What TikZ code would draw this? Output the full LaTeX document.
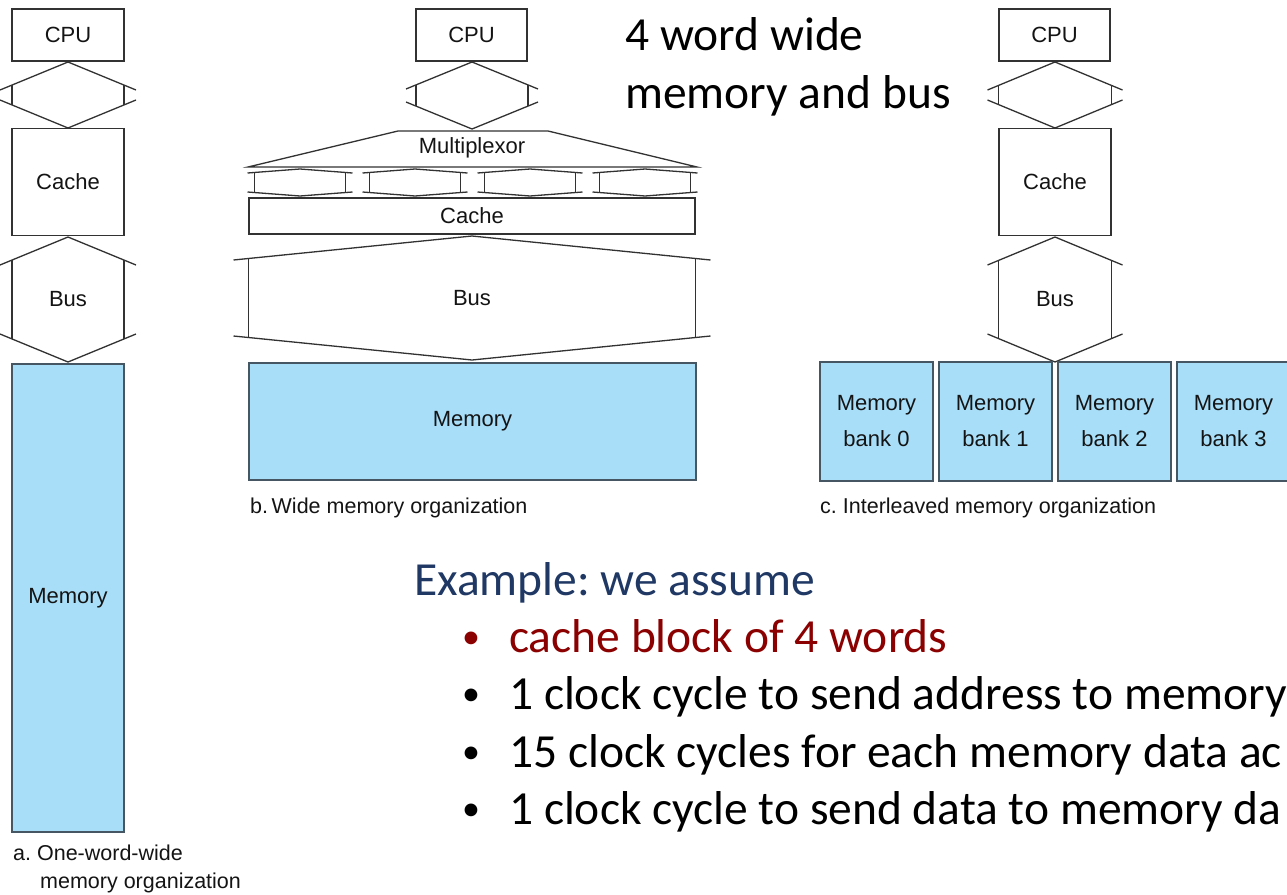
\documentclass[tikz,border=0pt]{standalone}
\usepackage{fontspec}
\setmainfont{Carlito}
\newfontfamily\helv{Liberation Sans}
\frenchspacing
\definecolor{memfill}{RGB}{168,222,248}
\definecolor{memline}{RGB}{70,86,98}
\definecolor{linegray}{RGB}{50,50,50}
\definecolor{figtext}{RGB}{20,20,20}
\definecolor{exblue}{RGB}{31,56,100}
\definecolor{exred}{RGB}{139,0,0}
\tikzset{
  conn/.style={draw=linegray, line width=1.3pt},
  plainbox/.style={draw=linegray, line width=1.3pt, fill=white, inner sep=0pt, text=figtext, font=\helv\fontsize{22}{26}\selectfont},
  membox/.style={draw=memline, line width=1.3pt, fill=memfill, inner sep=0pt, text=figtext, font=\helv\fontsize{22}{36}\selectfont, align=center},
  figlabel/.style={inner sep=0pt, text=figtext, font=\helv\fontsize{22}{26}\selectfont},
  caption/.style={inner sep=0pt, anchor=base west, text=figtext, font=\helv\fontsize{21.5}{28}\selectfont},
  bigtext/.style={inner sep=0pt, anchor=base west, font=\fontsize{47.5}{57}\selectfont},
  bulletmark/.style={inner sep=0pt, anchor=base, font=\fontsize{36}{40}\selectfont}
}
% #1 cx, #2 ytop, #3 ybot, #4 half width, #5 overhang, #6 drop
\newcommand{\busshape}[6]{%
  \pgfmathsetmacro{\bxl}{#1-#4}\pgfmathsetmacro{\bxr}{#1+#4}%
  \pgfmathsetmacro{\bol}{#1-#4-#5}\pgfmathsetmacro{\bor}{#1+#4+#5}%
  \pgfmathsetmacro{\byu}{#2+#6}\pgfmathsetmacro{\byd}{#3-#6}%
  \pgfmathsetmacro{\bvu}{#2+#6*#4/(#4+#5)}\pgfmathsetmacro{\bvd}{#3-#6*#4/(#4+#5)}%
  \draw[conn] (\bol,\byu) -- (#1,#2) -- (\bor,\byu);
  \draw[conn] (\bol,\byd) -- (#1,#3) -- (\bor,\byd);
  \draw[conn] (\bxl,\bvu) -- (\bxl,\bvd) (\bxr,\bvu) -- (\bxr,\bvd);
}
\begin{document}
\begin{tikzpicture}[x=1pt,y=-1pt]
\useasboundingbox (0,0) rectangle (1287,894);
\fill[white] (0,0) rectangle (1287,894);
\clip (0,0) rectangle (1287,894);

% ---------- a. one-word-wide ----------
\node[plainbox, minimum width=112pt, minimum height=52pt] (cpuA) at (68,35) {CPU};
\busshape{68}{62}{128}{56}{12}{28}
\node[plainbox, minimum width=112pt, minimum height=107pt] (cacheA) at (68,182) {Cache};
\busshape{68}{237}{362}{56}{12}{28}
\node[figlabel] (busA) at (68,299) {Bus};
\node[membox, minimum width=112pt, minimum height=468pt] (memA) at (68,598) {Memory};
\node[caption] (capA1) at (13,860) {a. One-word-wide};
\node[caption] (capA2) at (40,888) {memory organization};

% ---------- b. wide ----------
\node[plainbox, minimum width=111pt, minimum height=52pt] (cpuB) at (471.5,35) {CPU};
\busshape{472}{62}{129}{56}{10}{27}
\draw[conn] (398,131) -- (548,131) -- (697,167) -- (248,167) -- cycle;
\node[figlabel] (muxB) at (472,148) {Multiplexor};
\foreach \cx in {300,415,530,645}{\busshape{\cx}{169}{196}{45.5}{7}{4}}
\node[plainbox, minimum width=446pt, minimum height=36pt] (cacheB) at (472,216) {Cache};
\busshape{472}{236}{360}{223.5}{15}{24}
\node[figlabel] (busB) at (472,298) {Bus};
\node[membox, minimum width=447pt, minimum height=117pt] (memB) at (472.5,421.5) {Memory};
\node[caption] (capB) at (250,513) {b.\,Wide memory organization};

% ---------- c. interleaved ----------
\node[plainbox, minimum width=111pt, minimum height=52pt] (cpuC) at (1054.5,35) {CPU};
\busshape{1055}{62}{128}{56.5}{11}{28}
\node[plainbox, minimum width=112pt, minimum height=107pt] (cacheC) at (1055,182) {Cache};
\busshape{1055}{237}{362}{56.5}{11}{28}
\node[figlabel] (busC) at (1055,299) {Bus};
\foreach \i in {0,1,2,3}{
  \node[membox, minimum width=113pt, minimum height=119pt] (bank\i) at (876.5+119*\i,421.5) {Memory\\bank \i};
}
\node[caption] (capC) at (820,513) {c. Interleaved memory organization};

% ---------- text ----------
\node[bigtext] (t1) at (625,50) {4 word wide};
\node[bigtext] (t2) at (625,108) {memory and bus};
\node[bigtext, text=exblue] (ex) at (414,595) {Example: we assume};
\node[bulletmark, text=exred] (b1) at (471,648) {•};
\node[bigtext, text=exred] (l1) at (509,652) {cache block of 4 words};
\node[bulletmark] (b2) at (471,705) {•};
\node[bigtext] (l2) at (509,709) {1 clock cycle to send address to memory};
\node[bulletmark] (b3) at (471,763) {•};
\node[bigtext] (l3) at (509,767) {15 clock cycles for each memory data ac};
\node[bulletmark] (b4) at (471,820) {•};
\node[bigtext] (l4) at (509,824) {1 clock cycle to send data to memory da};
\end{tikzpicture}
\end{document}
